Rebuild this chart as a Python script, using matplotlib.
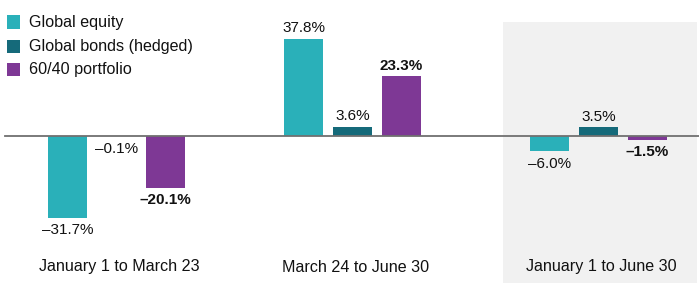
import matplotlib.pyplot as plt
from matplotlib.patches import Rectangle

# data
periods = ['January 1 to March 23', 'March 24 to June 30', 'January 1 to June 30']
series = ['Global equity', 'Global bonds (hedged)', '60/40 portfolio']
equity = [-31.7, 37.8, -6.0]
bonds = [-0.1, 3.6, 3.5]
portfolio = [-20.1, 23.3, -1.5]
colors = ['#2AB0B9', '#156A7A', '#7E3895']

plt.rcParams['font.family'] = ['Liberation Sans', 'DejaVu Sans']

W, H = 699, 294
base_px = 136          # baseline, pixels from top
scale = 2.575          # pixels per percentage point

fig = plt.figure(figsize=(W / 100, H / 100), dpi=100)
ax = fig.add_axes([0, 0, 1, 1])
ax.set_xlim(0, W)
ax.set_ylim(-(H - base_px) / scale, base_px / scale)
ax.axis('off')


def py(px):
    # pixel row from top -> data y
    return (base_px - px) / scale


# shaded full-period panel
ax.add_patch(Rectangle((502.5, py(283)), 194, py(22) - py(283),
                       facecolor='#F1F1F1', edgecolor='none', zorder=0))

group_x = [116.7, 352.5, 598.5]
offsets = [-49, 0, 49]
bar_w = 38.5

for k, vals in enumerate([equity, bonds, portfolio]):
    xs = [g + offsets[k] for g in group_x]
    ax.bar(xs, vals, width=bar_w, color=colors[k], zorder=2)
    for x, v in zip(xs, vals):
        txt = f'{v:.1f}%'.replace('-', '\u2013')
        weight = 'bold' if k == 2 else 'normal'
        if v >= 0:
            ax.annotate(txt, (x, v), xytext=(0, 2.5), textcoords='offset points',
                        ha='center', va='bottom', fontsize=11, color='#111111',
                        fontweight=weight, zorder=3)
        else:
            ax.annotate(txt, (x, v), xytext=(0, -4), textcoords='offset points',
                        ha='center', va='top', fontsize=11, color='#111111',
                        fontweight=weight, zorder=3)

ax.plot([5, W], [0, 0], color='#707070', lw=1.3, zorder=4)

for g, lab in zip(group_x, periods):
    ax.text(g + 3, py(267), lab, ha='center', va='center', fontsize=11.6, color='#111111')

# legend
for i, (name, c) in enumerate(zip(series, colors)):
    yc = [22, 46, 69][i]
    ax.add_patch(Rectangle((7, py(yc + 6.5)), 13, 13 / scale, facecolor=c,
                           edgecolor='none', zorder=3))
    ax.text(29, py(yc), name, ha='left', va='center', fontsize=11.6, color='#111111')

fig.savefig('out.png', dpi=100)
